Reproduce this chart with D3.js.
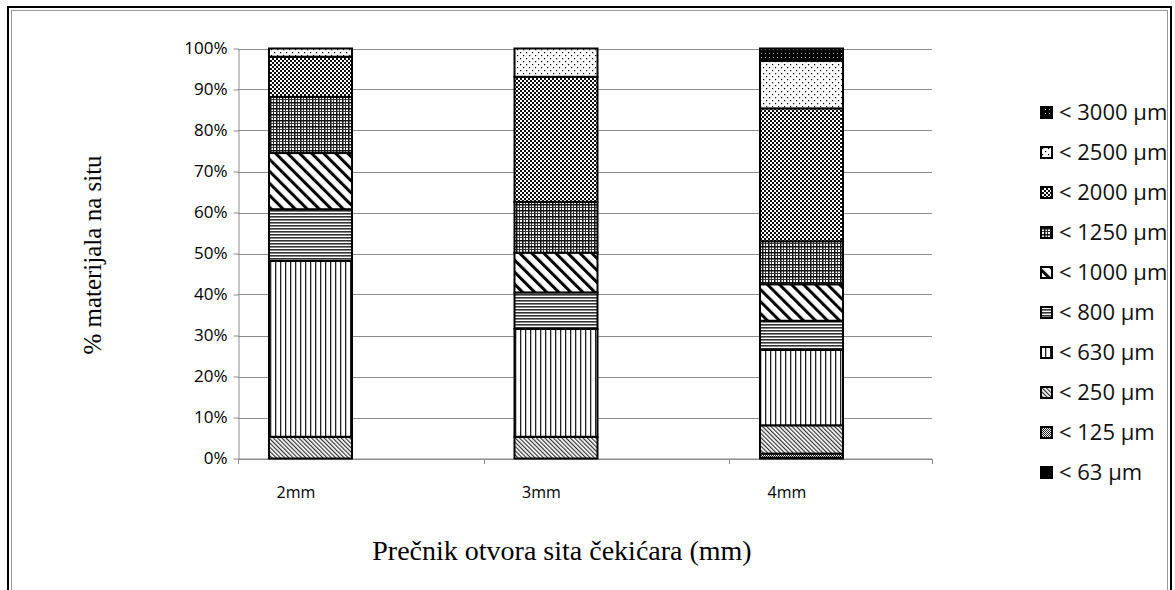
<!DOCTYPE html>
<html>
<head>
<meta charset="utf-8">
<script src="https://cdn.jsdelivr.net/npm/d3@7"></script>
<style>
  html, body { margin: 0; padding: 0; background: #fff; }
  svg { display: block; }
</style>
</head>
<body>
<svg id="chart" width="1175" height="590"></svg>
<script>
// Sieve size classes (bottom → top of each stacked bar)
const sizeKeys = ["s63", "s125", "s250", "s630", "s800", "s1000", "s1250", "s2000", "s2500", "s3000"];
const sizeLabels = ["< 63 µm", "< 125 µm", "< 250 µm", "< 630 µm", "< 800 µm", "< 1000 µm", "< 1250 µm", "< 2000 µm", "< 2500 µm", "< 3000 µm"];

// Hammer-mill screen openings
const categories = ["2mm", "3mm", "4mm"];

// Share of material retained on each sieve (%), one value per screen opening
const s63   = [0,    0,    0.2];
const s125  = [0,    0,    1.0];
const s250  = [5.3,  5.3,  6.9];
const s630  = [42.9, 26.3, 18.4];
const s800  = [12.6, 8.9,  7.1];
const s1000 = [13.7, 9.7,  8.9];
const s1250 = [13.7, 12.4, 10.5];
const s2000 = [9.8,  30.5, 32.4];
const s2500 = [2.0,  6.9,  11.6];
const s3000 = [0,    0,    3.0];

const yTicks = [0, 10, 20, 30, 40, 50, 60, 70, 80, 90, 100];

const seriesByKey = { s63, s125, s250, s630, s800, s1000, s1250, s2000, s2500, s3000 };
const rows = categories.map((c, i) => {
  const r = { cat: c };
  sizeKeys.forEach(k => { r[k] = seriesByKey[k][i]; });
  return r;
});

const svg = d3.select("#chart");
const sans = "'Open Sans', 'Noto Sans', sans-serif";
const serif = "'Liberation Serif', 'DejaVu Serif', serif";

// ---- fill patterns (monochrome hatching) ----
const defs = svg.append("defs");
function pat(id, w, h, transform) {
  const p = defs.append("pattern").attr("id", id)
    .attr("patternUnits", "userSpaceOnUse").attr("width", w).attr("height", h);
  if (transform) p.attr("patternTransform", transform);
  return p;
}
// < 63: solid black
pat("p_s63", 4, 4).append("rect").attr("width", 4).attr("height", 4).attr("fill", "#000");
// < 125: fine dark checker
{ const p = pat("p_s125", 2, 2);
  p.append("rect").attr("width", 2).attr("height", 2).attr("fill", "#fff");
  p.append("rect").attr("width", 1).attr("height", 1).attr("fill", "#222");
  p.append("rect").attr("x", 1).attr("y", 1).attr("width", 1).attr("height", 1).attr("fill", "#222"); }
// < 250: fine diagonal hatch
{ const p = pat("p_s250", 3, 3, "rotate(-45)");
  p.append("rect").attr("width", 3).attr("height", 3).attr("fill", "#fff");
  p.append("rect").attr("width", 1.2).attr("height", 3).attr("fill", "#333"); }
// < 630: vertical lines
{ const p = pat("p_s630", 5, 5);
  p.append("rect").attr("width", 5).attr("height", 5).attr("fill", "#fff");
  p.append("rect").attr("width", 1.3).attr("height", 5).attr("fill", "#222"); }
// < 800: dense horizontal lines
{ const p = pat("p_s800", 3, 3);
  p.append("rect").attr("width", 3).attr("height", 3).attr("fill", "#fff");
  p.append("rect").attr("width", 3).attr("height", 1.6).attr("fill", "#333"); }
// < 1000: wide diagonal stripes
{ const p = pat("p_s1000", 8.5, 8.5, "rotate(-45)");
  p.append("rect").attr("width", 8.5).attr("height", 8.5).attr("fill", "#fff");
  p.append("rect").attr("width", 3).attr("height", 8.5).attr("fill", "#000"); }
// < 1250: plaid grid
{ const p = pat("p_s1250", 6, 6);
  p.append("rect").attr("width", 6).attr("height", 6).attr("fill", "#fff");
  p.append("rect").attr("width", 1.5).attr("height", 6).attr("fill", "#111");
  p.append("rect").attr("x", 3).attr("width", 1).attr("height", 6).attr("fill", "#333");
  p.append("rect").attr("width", 6).attr("height", 1.5).attr("fill", "#111");
  p.append("rect").attr("y", 3).attr("width", 6).attr("height", 1).attr("fill", "#333"); }
// < 2000: checkerboard
{ const p = pat("p_s2000", 4, 4);
  p.append("rect").attr("width", 4).attr("height", 4).attr("fill", "#111");
  p.append("rect").attr("width", 2).attr("height", 2).attr("fill", "#fff");
  p.append("rect").attr("x", 2).attr("y", 2).attr("width", 2).attr("height", 2).attr("fill", "#fff"); }
// < 2500: sparse dots on white
{ const p = pat("p_s2500", 6, 6);
  p.append("rect").attr("width", 6).attr("height", 6).attr("fill", "#fff");
  p.append("rect").attr("x", 1).attr("y", 1).attr("width", 1.2).attr("height", 1.2).attr("fill", "#000");
  p.append("rect").attr("x", 4).attr("y", 4).attr("width", 1.2).attr("height", 1.2).attr("fill", "#000"); }
// < 3000: sparse light dots on black
{ const p = pat("p_s3000", 4, 4);
  p.append("rect").attr("width", 4).attr("height", 4).attr("fill", "#000");
  p.append("rect").attr("x", 1).attr("y", 1).attr("width", 1).attr("height", 1).attr("fill", "#bbb"); }

// ---- outer frame ----
svg.append("rect").attr("x", 8).attr("y", 7).attr("width", 1163).attr("height", 600)
  .attr("fill", "none").attr("stroke", "#000").attr("stroke-width", 2);
svg.append("rect").attr("x", 11.5).attr("y", 10.5).attr("width", 1156).attr("height", 600)
  .attr("fill", "none").attr("stroke", "#999").attr("stroke-width", 1);

// ---- scales ----
const plotLeft = 238, plotRight = 932;
const bandW = 245.5;
const x = d3.scaleBand().domain(categories).range([plotLeft, plotLeft + bandW * categories.length]);
const y = d3.scaleLinear().domain([0, 100]).range([458.5, 48.5]);

const barOffset = 31, barWidth = 83, labelOffset = 58;

// gridlines
svg.append("g").selectAll("line").data(yTicks).join("line")
  .attr("x1", plotLeft).attr("x2", plotRight)
  .attr("y1", d => Math.round(y(d)) + 0.5).attr("y2", d => Math.round(y(d)) + 0.5)
  .attr("stroke", "#8c8c8c").attr("stroke-width", 1);

// y axis
const yAxis = svg.append("g").attr("transform", `translate(${plotLeft + 0.5},0)`)
  .call(d3.axisLeft(y).tickValues(yTicks).tickFormat(d => d + "%").tickSize(5).tickSizeOuter(0));
yAxis.select(".domain").attr("stroke", "#8c8c8c");
yAxis.selectAll(".tick line").attr("stroke", "#8c8c8c");
yAxis.selectAll(".tick text").attr("x", -11)
  .style("font-family", sans).style("font-size", "17px").attr("fill", "#000");

// x axis baseline + category separators
svg.append("line").attr("x1", plotLeft).attr("x2", plotRight)
  .attr("y1", 459).attr("y2", 459).attr("stroke", "#8c8c8c");
const sepX = categories.map(c => x(c)).concat([plotRight]);
svg.append("g").selectAll("line").data(sepX).join("line")
  .attr("x1", d => Math.round(d) + 0.5).attr("x2", d => Math.round(d) + 0.5)
  .attr("y1", 459).attr("y2", 464).attr("stroke", "#8c8c8c");
svg.append("g").selectAll("text").data(categories).join("text")
  .attr("x", d => x(d) + labelOffset).attr("y", 492).attr("dy", "0.35em")
  .attr("text-anchor", "middle")
  .style("font-family", sans).style("font-size", "16px")
  .text(d => d);

// ---- stacked bars ----
const stacked = d3.stack().keys(sizeKeys)(rows);
const gBars = svg.append("g");
stacked.forEach(layer => {
  gBars.append("g").selectAll("rect")
    .data(layer.filter(d => d[1] - d[0] > 0))
    .join("rect")
    .attr("x", d => x(d.data.cat) + barOffset)
    .attr("width", barWidth)
    .attr("y", d => y(d[1]))
    .attr("height", d => y(d[0]) - y(d[1]))
    .attr("fill", `url(#p_${layer.key})`)
    .attr("stroke", "#000").attr("stroke-width", 2);
});

// ---- legend ----
const legendKeys = sizeKeys.slice().reverse();
const legendLabels = sizeLabels.slice().reverse();
const lg = svg.append("g");
legendKeys.forEach((k, i) => {
  const cy = 112 + i * 40;
  lg.append("rect").attr("x", 1041).attr("y", cy - 5).attr("width", 11).attr("height", 11)
    .attr("fill", `url(#p_${k})`).attr("stroke", "#000").attr("stroke-width", 2);
  lg.append("text").attr("x", 1059).attr("y", cy).attr("dy", "0.35em")
    .style("font-family", sans).style("font-size", "22px").attr("fill", "#111")
    .text(legendLabels[i]);
});

// ---- axis titles ----
svg.append("text").attr("transform", "translate(92,255) rotate(-90)")
  .attr("text-anchor", "middle").attr("dy", "0.35em")
  .style("font-family", serif).style("font-size", "25px")
  .text("% materijala na situ");
svg.append("text").attr("x", 562).attr("y", 550).attr("dy", "0.35em")
  .attr("text-anchor", "middle")
  .style("font-family", serif).style("font-size", "28px")
  .text("Prečnik otvora sita čekićara (mm)");
</script>
</body>
</html>
